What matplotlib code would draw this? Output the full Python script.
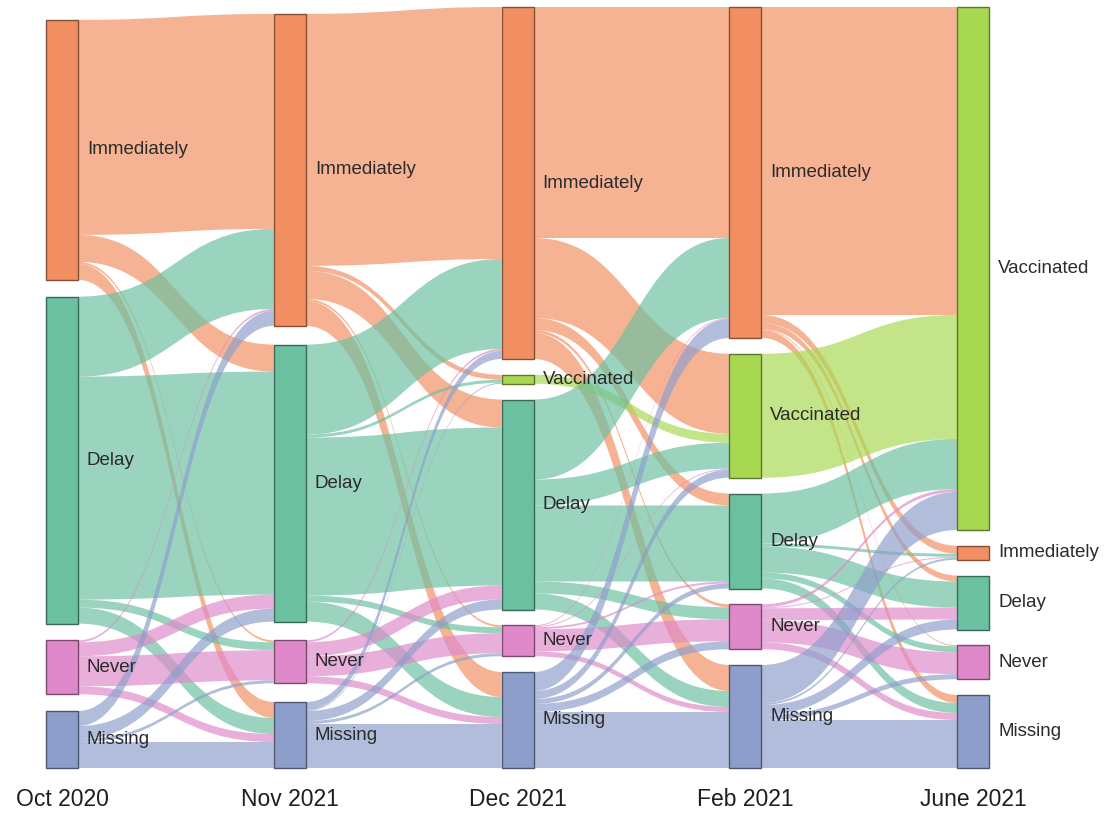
import matplotlib.pyplot as plt
import matplotlib.colors as mcolors
from matplotlib.path import Path
from matplotlib.patches import PathPatch, Rectangle

plt.rcParams["font.family"] = ["Liberation Sans", "DejaVu Sans"]

stages = ["Oct 2020", "Nov 2021", "Dec 2021", "Feb 2021", "June 2021"]
nodes = [
    ["Immediately", "Delay", "Never", "Missing"],
    ["Immediately", "Delay", "Never", "Missing"],
    ["Immediately", "Vaccinated", "Delay", "Never", "Missing"],
    ["Immediately", "Vaccinated", "Delay", "Never", "Missing"],
    ["Vaccinated", "Immediately", "Delay", "Never", "Missing"],
]

# flows between consecutive waves (rows = from, columns = to)
oct_nov = [[215, 27, 2, 16],
           [80, 223, 8, 16],
           [2, 14, 30, 8],
           [15, 13, 3, 26]]
nov_dec = [[252, 5, 28, 2, 25],
           [90, 3, 158, 6, 20],
           [2, 0, 14, 20, 7],
           [8, 1, 10, 3, 44]]
dec_feb = [[231, 80, 12, 3, 26],
           [0, 9, 0, 0, 0],
           [80, 26, 76, 12, 16],
           [1, 1, 2, 22, 5],
           [19, 8, 5, 8, 56]]
feb_jun = [[308, 8, 6, 1, 8],
           [124, 0, 0, 0, 0],
           [50, 3, 26, 6, 10],
           [3, 1, 12, 22, 7],
           [38, 2, 10, 5, 48]]
flows = [oct_nov, nov_dec, dec_feb, feb_jun]

colors = {"Immediately": "#f28f62", "Delay": "#6ac09f", "Never": "#df89ca",
          "Missing": "#8e9ecb", "Vaccinated": "#a8d852"}

# layout (pixels)
x_first = 46
x_step = 227.8
node_w = 32
bottom = 768
gaps = [16.7, 18.7, 15.75, 15.75, 15.75]


def darker(c, f=0.55):
    r, g, b = mcolors.to_rgb(c)
    return (r * f, g * f, b * f)


fig = plt.figure(figsize=(11.04, 8.14), dpi=100)
ax = fig.add_axes([0, 0, 1, 1])
ax.set_xlim(0, 1104)
ax.set_ylim(814, 0)
ax.axis("off")

# node sizes
sizes = []
for k in range(len(stages)):
    n = len(nodes[k])
    s = [0] * n
    for i in range(n):
        out_v = sum(flows[k][i]) if k < len(flows) else 0
        in_v = sum(row[i] for row in flows[k - 1]) if k > 0 else 0
        s[i] = max(out_v, in_v)
    sizes.append(s)

tops = []
for k in range(len(stages)):
    y = bottom - sum(sizes[k]) - gaps[k] * (len(sizes[k]) - 1)
    t = []
    for s in sizes[k]:
        t.append(y)
        y += s + gaps[k]
    tops.append(t)

xs = [x_first + k * x_step for k in range(len(stages))]

# links
for k, F in enumerate(flows):
    out_off = list(tops[k])
    in_off = list(tops[k + 1])
    xa = xs[k] + node_w
    xb = xs[k + 1]
    xm = (xa + xb) / 2
    for i, row in enumerate(F):
        for j, v in enumerate(row):
            if v <= 0:
                continue
            y0 = out_off[i]
            out_off[i] += v
            y1 = in_off[j]
            in_off[j] += v
            verts = [(xa, y0), (xm, y0), (xm, y1), (xb, y1),
                     (xb, y1 + v), (xm, y1 + v), (xm, y0 + v), (xa, y0 + v),
                     (xa, y0)]
            codes = [Path.MOVETO, Path.CURVE4, Path.CURVE4, Path.CURVE4,
                     Path.LINETO, Path.CURVE4, Path.CURVE4, Path.CURVE4,
                     Path.CLOSEPOLY]
            ax.add_patch(PathPatch(Path(verts, codes),
                                   facecolor=colors[nodes[k][i]],
                                   edgecolor="none", alpha=0.68, zorder=1))

# nodes and labels
for k in range(len(stages)):
    for name, t, s in zip(nodes[k], tops[k], sizes[k]):
        ax.add_patch(Rectangle((xs[k], t), node_w, s,
                               facecolor=colors[name],
                               edgecolor=darker(colors[name]),
                               linewidth=1.0, zorder=3))
        ax.text(xs[k] + node_w + 9, t + s / 2, name, ha="left", va="center",
                fontsize=13.5, color="#2b2b2b", zorder=4)
    ax.text(xs[k] + node_w / 2, 800, stages[k], ha="center", va="center",
            fontsize=16.5, color="#1e1e1e")

fig.savefig("out.png", dpi=100)
